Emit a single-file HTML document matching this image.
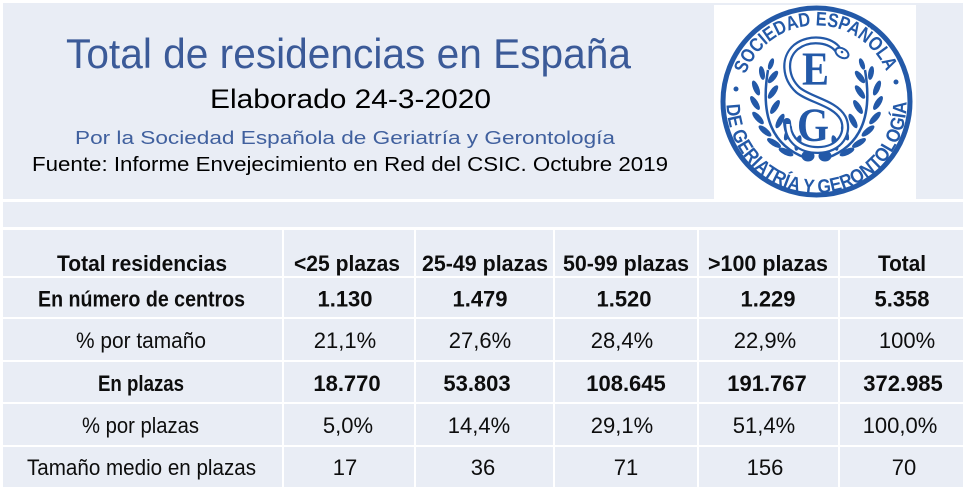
<!DOCTYPE html>
<html><head><meta charset="utf-8"><style>
html,body{margin:0;padding:0;background:#fff;}
svg{display:block;}
text{font-family:"Liberation Sans",sans-serif;}
</style></head><body>
<svg width="967" height="496" viewBox="0 0 967 496" xmlns="http://www.w3.org/2000/svg">
<rect x="0" y="0" width="967" height="496" fill="#fff"/>
<!-- top panel -->
<rect x="3" y="3" width="960" height="196" fill="#e9edf5"/>
<rect x="714" y="5" width="202" height="195" fill="#fff"/>
<!-- band -->
<rect x="3" y="202" width="960" height="25" fill="#e9edf5"/>
<!-- table cells -->
<g fill="#e9edf5">
<rect x="3" y="230" width="279" height="46"/><rect x="284" y="230" width="130" height="46"/><rect x="416" y="230" width="137" height="46"/><rect x="555" y="230" width="142" height="46"/><rect x="699" y="230" width="139" height="46"/><rect x="840" y="230" width="123" height="46"/>
<rect x="3" y="278" width="279" height="39"/><rect x="284" y="278" width="130" height="39"/><rect x="416" y="278" width="137" height="39"/><rect x="555" y="278" width="142" height="39"/><rect x="699" y="278" width="139" height="39"/><rect x="840" y="278" width="123" height="39"/>
<rect x="3" y="319" width="279" height="41"/><rect x="284" y="319" width="130" height="41"/><rect x="416" y="319" width="137" height="41"/><rect x="555" y="319" width="142" height="41"/><rect x="699" y="319" width="139" height="41"/><rect x="840" y="319" width="123" height="41"/>
<rect x="3" y="362" width="279" height="40"/><rect x="284" y="362" width="130" height="40"/><rect x="416" y="362" width="137" height="40"/><rect x="555" y="362" width="142" height="40"/><rect x="699" y="362" width="139" height="40"/><rect x="840" y="362" width="123" height="40"/>
<rect x="3" y="404" width="279" height="41"/><rect x="284" y="404" width="130" height="41"/><rect x="416" y="404" width="137" height="41"/><rect x="555" y="404" width="142" height="41"/><rect x="699" y="404" width="139" height="41"/><rect x="840" y="404" width="123" height="41"/>
<rect x="3" y="447" width="279" height="40"/><rect x="284" y="447" width="130" height="40"/><rect x="416" y="447" width="137" height="40"/><rect x="555" y="447" width="142" height="40"/><rect x="699" y="447" width="139" height="40"/><rect x="840" y="447" width="123" height="40"/>
</g>

<!-- titles -->
<text x="66" y="68" font-size="42" fill="#3b5a98" textLength="565" lengthAdjust="spacingAndGlyphs">Total de residencias en España</text>
<text x="210" y="108" font-size="27" fill="#000" textLength="281" lengthAdjust="spacingAndGlyphs">Elaborado 24-3-2020</text>
<text x="75" y="144" font-size="18.5" fill="#40609e" textLength="540" lengthAdjust="spacingAndGlyphs">Por la Sociedad Española de Geriatría y Gerontología</text>
<text x="32" y="171" font-size="20.5" fill="#000" textLength="636" lengthAdjust="spacingAndGlyphs">Fuente: Informe Envejecimiento en Red del CSIC. Octubre 2019</text>

<!-- logo -->
<g>
<circle cx="816.5" cy="101.5" r="93.5" fill="none" stroke="#2359a8" stroke-width="5"/>
<defs>
<path id="tp" d="M745.5,74.3 A76 76 0 0 1 884.8,68.2"/>
<path id="bp" d="M726.6,104.6 A89 89 0 1 0 906.5,101.5"/>
<g id="leaves">
<path d="M806,158 Q756,140 768,70" fill="none" stroke="#2359a8" stroke-width="2.5"/>
<g fill="#2359a8">
<ellipse cx="786" cy="152" rx="8" ry="3" transform="rotate(-155 786 152)"/>
<ellipse cx="798" cy="143" rx="8" ry="3" transform="rotate(-75 798 143)"/>
<ellipse cx="774" cy="143" rx="8" ry="3" transform="rotate(-148 774 143)"/>
<ellipse cx="788" cy="133" rx="8" ry="3" transform="rotate(-68 788 133)"/>
<ellipse cx="765" cy="131" rx="8" ry="3" transform="rotate(-140 765 131)"/>
<ellipse cx="780" cy="121" rx="8" ry="3" transform="rotate(-62 780 121)"/>
<ellipse cx="758" cy="118" rx="8" ry="3" transform="rotate(-132 758 118)"/>
<ellipse cx="775" cy="107" rx="8" ry="3" transform="rotate(-58 775 107)"/>
<ellipse cx="755" cy="103" rx="8" ry="3" transform="rotate(-122 755 103)"/>
<ellipse cx="773" cy="92" rx="8" ry="3" transform="rotate(-55 773 92)"/>
<ellipse cx="756" cy="88" rx="8" ry="3" transform="rotate(-112 756 88)"/>
<ellipse cx="773" cy="77" rx="7.5" ry="3" transform="rotate(-52 773 77)"/>
<ellipse cx="762" cy="73" rx="7" ry="2.8" transform="rotate(-100 762 73)"/>
<ellipse cx="771" cy="64" rx="6" ry="2.5" transform="rotate(-70 771 64)"/>
</g>
</g>
</defs>
<text font-size="19.5" font-weight="bold" fill="#2359a8"><textPath href="#tp" textLength="180" lengthAdjust="spacingAndGlyphs">SOCIEDAD ESPAÑOLA</textPath></text>
<text font-size="19.5" font-weight="bold" fill="#2359a8"><textPath href="#bp" textLength="282" lengthAdjust="spacingAndGlyphs">DE GERIATRÍA Y GERONTOLOGÍA</textPath></text>
<circle cx="736" cy="89" r="2.5" fill="#2359a8"/>
<circle cx="896" cy="82" r="2.5" fill="#2359a8"/>
<use href="#leaves"/>
<use href="#leaves" transform="translate(1633 0) scale(-1 1)"/>
<ellipse cx="808" cy="156" rx="6.5" ry="5.5" fill="#2359a8"/>
<ellipse cx="825" cy="156" rx="6.5" ry="5.5" fill="#2359a8"/>
<path d="M838,50 C832,40 810,36 796,47 C783,58 785,78 798,90 C810,100 835,103 843,118 C850,132 840,150 818,150 C800,150 788,140 787,122" fill="none" stroke="#2359a8" stroke-width="8" stroke-linecap="round"/>
<path d="M838,50 C832,40 810,36 796,47 C783,58 785,78 798,90 C810,100 835,103 843,118 C850,132 840,150 818,150 C800,150 788,140 788,124" fill="none" stroke="#fff" stroke-width="3.5"/>
<ellipse cx="842" cy="53" rx="7" ry="4.5" transform="rotate(30 842 53)" fill="#fff" stroke="#2359a8" stroke-width="2"/>
<circle cx="842" cy="52" r="1.3" fill="#2359a8"/>
<text x="802" y="85" font-size="48" font-weight="bold" fill="#2359a8" textLength="27" lengthAdjust="spacingAndGlyphs" style="font-family:'Liberation Serif',serif">E</text>
<text x="797" y="141" font-size="48" font-weight="bold" fill="#2359a8" textLength="32" lengthAdjust="spacingAndGlyphs" style="font-family:'Liberation Serif',serif">G</text>
</g>

<!-- table text -->
<g font-size="22" fill="#0d0d0d" font-weight="bold">
<text x="57" y="271" textLength="170" lengthAdjust="spacingAndGlyphs">Total residencias</text>
<text x="294" y="271" textLength="106" lengthAdjust="spacingAndGlyphs">&lt;25 plazas</text>
<text x="422" y="271" textLength="126" lengthAdjust="spacingAndGlyphs">25-49 plazas</text>
<text x="563" y="271" textLength="126" lengthAdjust="spacingAndGlyphs">50-99 plazas</text>
<text x="708" y="271" textLength="120" lengthAdjust="spacingAndGlyphs">&gt;100 plazas</text>
<text x="878" y="271" textLength="48" lengthAdjust="spacingAndGlyphs">Total</text>

<text x="38" y="306.5" textLength="207" lengthAdjust="spacingAndGlyphs">En número de centros</text>
<g text-anchor="middle">
<text x="345" y="306.5">1.130</text>
<text x="480" y="306.5">1.479</text>
<text x="624" y="306.5">1.520</text>
<text x="768" y="306.5">1.229</text>
<text x="902" y="306.5">5.358</text>
</g>

<text x="98" y="391" textLength="86" lengthAdjust="spacingAndGlyphs">En plazas</text>
<g text-anchor="middle">
<text x="347" y="391">18.770</text>
<text x="477" y="391">53.803</text>
<text x="626" y="391">108.645</text>
<text x="767" y="391">191.767</text>
<text x="903" y="391">372.985</text>
</g>
</g>

<g font-size="22" fill="#0d0d0d">
<text x="76" y="348" textLength="130" lengthAdjust="spacingAndGlyphs">% por tamaño</text>
<g text-anchor="middle">
<text x="345" y="348">21,1%</text>
<text x="480" y="348">27,6%</text>
<text x="622" y="348">28,4%</text>
<text x="765" y="348">22,9%</text>
<text x="907" y="348">100%</text>
</g>
<text x="82" y="433" textLength="117" lengthAdjust="spacingAndGlyphs">% por plazas</text>
<g text-anchor="middle">
<text x="348" y="433">5,0%</text>
<text x="479" y="433">14,4%</text>
<text x="622" y="433">29,1%</text>
<text x="764" y="433">51,4%</text>
<text x="900" y="433">100,0%</text>
</g>
<text x="27" y="475" textLength="229" lengthAdjust="spacingAndGlyphs">Tamaño medio en plazas</text>
<g text-anchor="middle">
<text x="345" y="475">17</text>
<text x="483" y="475">36</text>
<text x="626" y="475">71</text>
<text x="765" y="475">156</text>
<text x="904" y="475">70</text>
</g>
</g>
</svg>
</body></html>
